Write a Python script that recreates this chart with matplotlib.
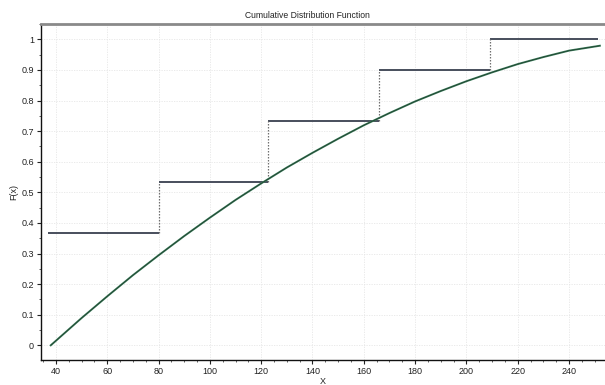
import numpy as np
import matplotlib.pyplot as plt
from matplotlib.ticker import MultipleLocator

# empirical CDF steps (left edge of each step, level)
step_x = [37.0, 80.0, 122.7, 165.9, 209.1]
step_end = 251.2
step_f = [0.368, 0.535, 0.734, 0.900, 1.000]

# fitted continuous CDF
cdf_x = [38, 50, 60, 70, 80, 90, 100, 110, 120, 130, 140, 150,
         160, 170, 180, 190, 200, 210, 220, 230, 240, 252]
cdf_f = [0.0, 0.089, 0.160, 0.229, 0.294, 0.357, 0.417, 0.475, 0.529,
         0.581, 0.629, 0.675, 0.719, 0.759, 0.797, 0.831, 0.863, 0.892,
         0.919, 0.942, 0.963, 0.979]

plt.rcParams['font.family'] = ['Liberation Sans', 'DejaVu Sans']

fig = plt.figure(figsize=(6.05, 3.85), dpi=100)
ax = fig.add_axes([41/605, 25/385, 1 - 41/605, (360 - 24)/385])

# horizontal step segments
ends = step_x[1:] + [step_end]
for i in range(len(step_x)):
    ax.plot([step_x[i], ends[i]], [step_f[i], step_f[i]],
            color='#474e5c', lw=1.4, solid_capstyle='butt', zorder=3)
# dotted risers between levels
for i in range(1, len(step_x)):
    ax.plot([step_x[i], step_x[i]], [step_f[i-1], step_f[i]],
            color='#707070', lw=0.9, ls=(0, (1.2, 1.2)), zorder=3)

ax.plot(cdf_x, cdf_f, color='#3a7d5a', lw=1.4, zorder=4)
ax.plot(cdf_x, cdf_f, color='#1f3a2c', lw=0.5, zorder=5)

ax.set_xlim(34.2, 254)
ax.set_ylim(-0.048, 1.05)
ax.xaxis.set_major_locator(MultipleLocator(20))
ax.xaxis.set_minor_locator(MultipleLocator(5))
ax.yaxis.set_minor_locator(MultipleLocator(0.05))
ax.set_yticks(np.arange(0, 1.01, 0.1))
ax.set_yticklabels(['0', '0.1', '0.2', '0.3', '0.4', '0.5', '0.6', '0.7',
                    '0.8', '0.9', '1'])

ax.tick_params(which='major', length=3, width=0.8, labelsize=6.5,
               pad=2, color='#222222', labelcolor='#222222')
ax.tick_params(which='minor', length=1.5, width=0.6, color='#444444')

ax.grid(True, which='major', color='#e6e6e6', lw=0.6, ls=(0, (1.5, 1.5)))
ax.set_axisbelow(True)

ax.spines['right'].set_visible(False)
ax.spines['top'].set_color('#8a8a8a')
ax.spines['top'].set_linewidth(2.0)
for side in ['left', 'bottom']:
    ax.spines[side].set_color('#111111')
    ax.spines[side].set_linewidth(1.0)

ax.set_xlabel('X', fontsize=6.5, labelpad=1, color='#222222')
ax.set_ylabel('F(x)', fontsize=6.5, labelpad=2, color='#222222')
fig.text(307/605, 1 - 15/385, 'Cumulative Distribution Function',
         ha='center', va='center', fontsize=6.2, color='#222222')

fig.savefig('out.png', dpi=100)
